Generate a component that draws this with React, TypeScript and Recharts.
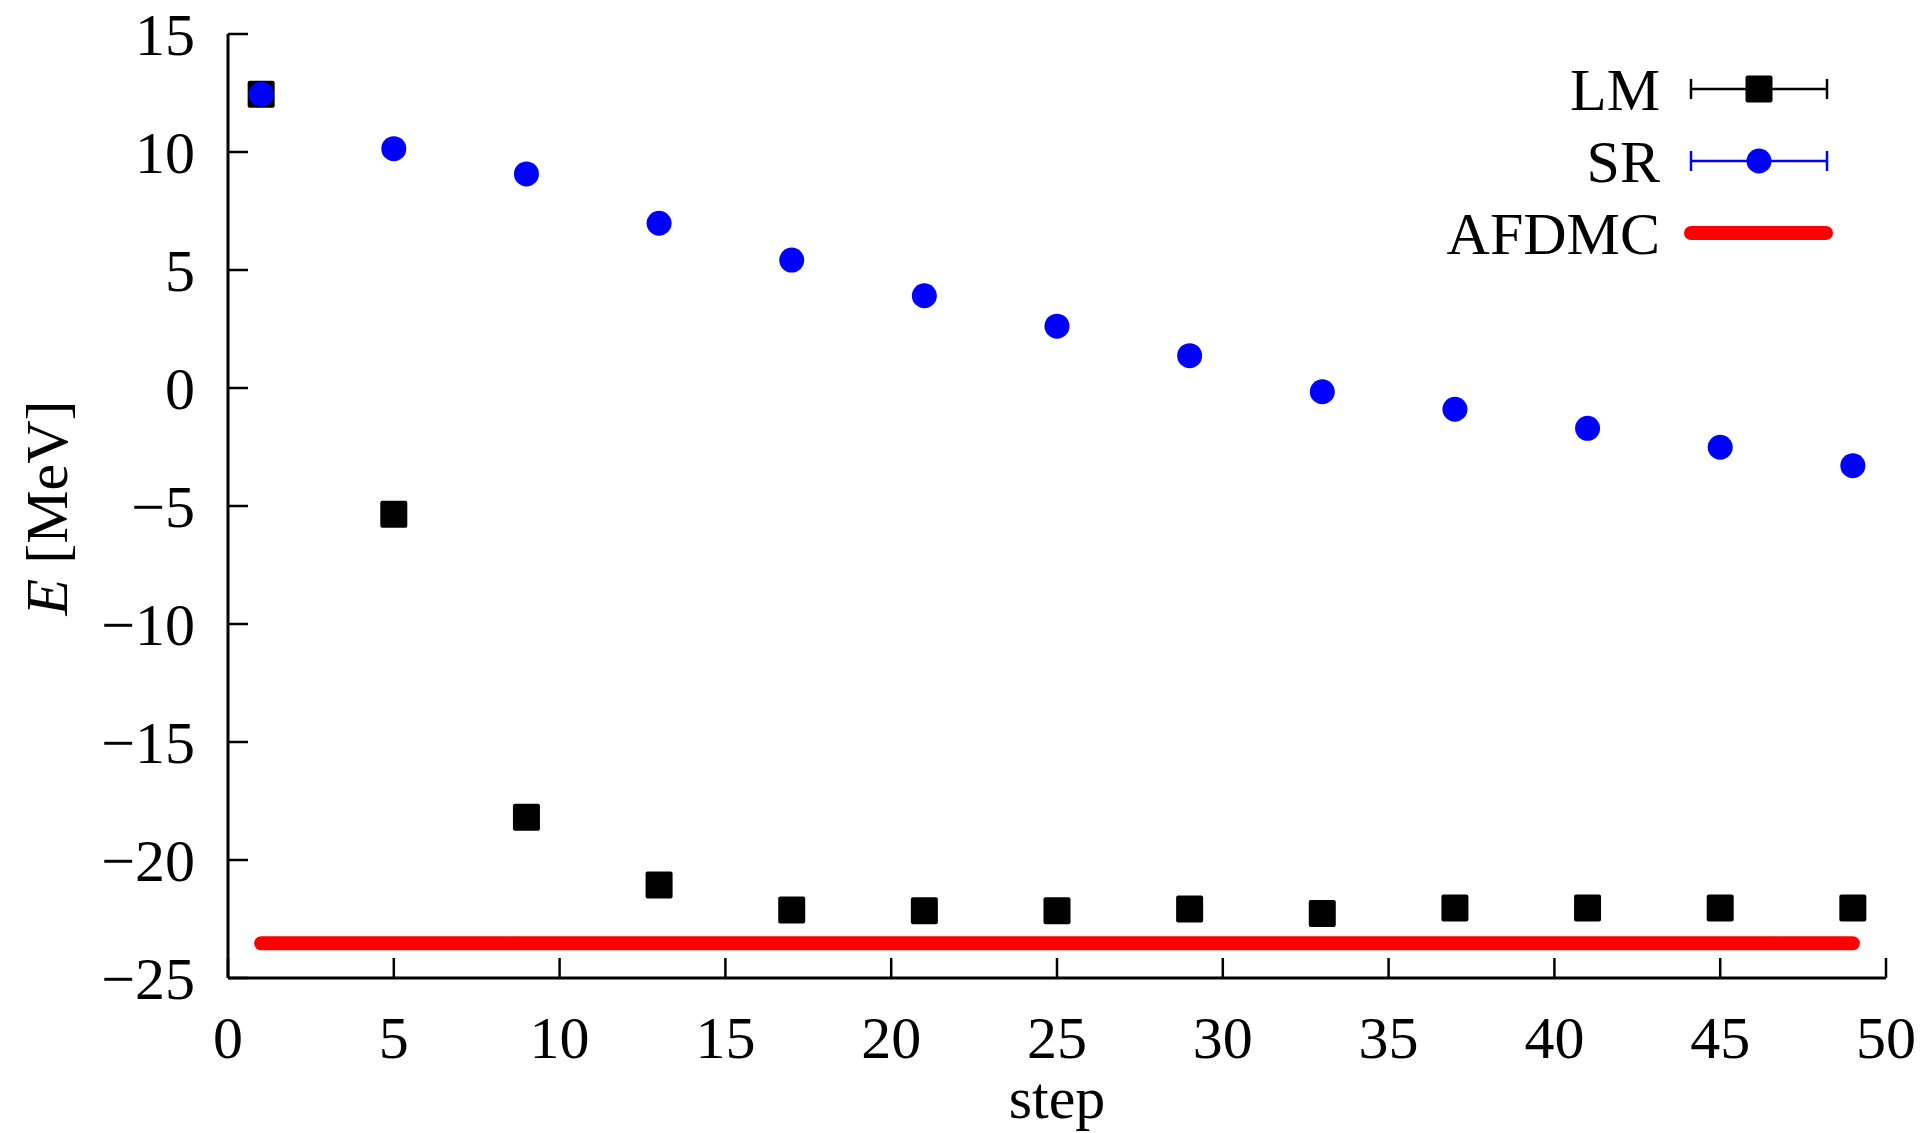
import { ComposedChart, Legend, Line, Scatter, XAxis, YAxis } from "recharts";

const steps = [1, 5, 9, 13, 17, 21, 25, 29, 33, 37, 41, 45, 49];
const lmEnergy = [12.45, -5.35, -18.19, -21.06, -22.12, -22.15, -22.15, -22.08, -22.27, -22.03, -22.03, -22.03, -22.03];
const srEnergy = [12.45, 10.14, 9.07, 6.98, 5.42, 3.91, 2.62, 1.37, -0.16, -0.9, -1.71, -2.51, -3.29];
const afdmcSteps = [1, 49];
const afdmcEnergy = [-23.53, -23.53];

const xTicks = [0, 5, 10, 15, 20, 25, 30, 35, 40, 45, 50];
const yTicks = [-25, -20, -15, -10, -5, 0, 5, 10, 15];

const legendNames = ["LM", "SR", "AFDMC"];
const legendColors = ["#000000", "#0000ff", "#ff0000"];

const lmData = steps.map((step, i) => ({ step, energy: lmEnergy[i] }));
const srData = steps.map((step, i) => ({ step, energy: srEnergy[i] }));
const afdmcData = afdmcSteps.map((step, i) => ({ step, energy: afdmcEnergy[i] }));

const FONT = "'Liberation Serif', 'DejaVu Serif', serif";
const FONT_SIZE = 60;
const TICK = 20;

const fmt = (v: number) => (v < 0 ? `\u2212${Math.abs(v)}` : String(v));

function BottomTick({ x, y, payload }: any) {
  return (
    <g>
      <line x1={x} x2={x} y1={y} y2={y - TICK} stroke="#000" strokeWidth={2.5} />
      <text x={x} y={y + 80} textAnchor="middle" fontFamily={FONT} fontSize={FONT_SIZE} fill="#000">
        {fmt(payload.value)}
      </text>
    </g>
  );
}

function TopTick({ x, y }: any) {
  return <line x1={x} x2={x} y1={y} y2={y + TICK} stroke="#000" strokeWidth={2.5} />;
}

function LeftTick({ x, y, payload }: any) {
  return (
    <g>
      <line x1={x} x2={x + TICK} y1={y} y2={y} stroke="#000" strokeWidth={2.5} />
      <text x={x - 33} y={y + 21} textAnchor="end" fontFamily={FONT} fontSize={FONT_SIZE} fill="#000">
        {fmt(payload.value)}
      </text>
    </g>
  );
}

function RightTick({ x, y }: any) {
  return <line x1={x} x2={x - TICK} y1={y} y2={y} stroke="#000" strokeWidth={2.5} />;
}

function Square({ cx, cy }: any) {
  return <rect x={cx - 13.5} y={cy - 13.5} width={27} height={27} rx={2} fill="#000" />;
}

function Dot({ cx, cy }: any) {
  return <circle cx={cx} cy={cy} r={12.5} fill="#0000ff" />;
}

function YLabel({ viewBox }: any) {
  const x = viewBox.x + 67;
  const y = viewBox.y + viewBox.height / 2 + 2;
  return (
    <text x={x} y={y} transform={`rotate(-90 ${x} ${y})`} textAnchor="middle" fontFamily={FONT} fontSize={FONT_SIZE} fill="#000">
      <tspan fontStyle="italic">E</tspan> [MeV]
    </text>
  );
}

function XLabel({ viewBox }: any) {
  return (
    <text x={viewBox.x + viewBox.width / 2} y={viewBox.y + 140} textAnchor="middle" fontFamily={FONT} fontSize={FONT_SIZE} fill="#000">
      step
    </text>
  );
}

function LegendBox() {
  return (
    <svg width={500} height={240} style={{ display: "block" }}>
      {legendNames.map((name, i) => {
        const rowY = 49 + i * 72;
        const color = legendColors[i];
        return (
          <g key={name}>
            <text x={260} y={rowY + 21} textAnchor="end" fontFamily={FONT} fontSize={FONT_SIZE} fill="#000">
              {name}
            </text>
            {i < 2 ? (
              <g stroke={color} strokeWidth={2.5}>
                <line x1={291} x2={427} y1={rowY} y2={rowY} />
                <line x1={291} x2={291} y1={rowY - 10} y2={rowY + 10} />
                <line x1={427} x2={427} y1={rowY - 10} y2={rowY + 10} />
                {i === 0 ? (
                  <rect x={359 - 13.5} y={rowY - 13.5} width={27} height={27} rx={2} fill={color} stroke="none" />
                ) : (
                  <circle cx={359} cy={rowY} r={12.5} fill={color} stroke="none" />
                )}
              </g>
            ) : (
              <line x1={291} x2={426} y1={rowY} y2={rowY} stroke={color} strokeWidth={14} strokeLinecap="round" />
            )}
          </g>
        );
      })}
    </svg>
  );
}

export default function App() {
  return (
    <div style={{ position: "absolute", left: 0, top: 0, width: 1922, height: 1133, background: "#fff" }}>
      <ComposedChart width={1922} height={1133} margin={{ top: 34, right: 36, bottom: 0, left: 0 }}>
        <XAxis
          xAxisId="bottom"
          dataKey="step"
          type="number"
          domain={[0, 50]}
          ticks={xTicks}
          interval={0}
          height={155}
          tickSize={0}
          tickMargin={0}
          tickLine={false}
          tick={<BottomTick />}
          axisLine={{ stroke: "#000", strokeWidth: 3 }}
          allowDataOverflow
          label={<XLabel />}
        />
        <XAxis
          xAxisId="top"
          orientation="top"
          type="number"
          domain={[0, 50]}
          ticks={xTicks}
          interval={0}
          height={0}
          tickSize={0}
          tickMargin={0}
          tickLine={false}
          tick={<TopTick />}
          axisLine={{ stroke: "#000", strokeWidth: 3 }}
          allowDataOverflow
        />
        <YAxis
          yAxisId="left"
          type="number"
          domain={[-25, 15]}
          ticks={yTicks}
          interval={0}
          width={228}
          tickSize={0}
          tickMargin={0}
          tickLine={false}
          tick={<LeftTick />}
          axisLine={{ stroke: "#000", strokeWidth: 3 }}
          allowDataOverflow
          label={<YLabel />}
        />
        <YAxis
          yAxisId="right"
          orientation="right"
          type="number"
          domain={[-25, 15]}
          ticks={yTicks}
          interval={0}
          width={0}
          tickSize={0}
          tickMargin={0}
          tickLine={false}
          tick={<RightTick />}
          axisLine={{ stroke: "#000", strokeWidth: 3 }}
          allowDataOverflow
        />
        <Line
          xAxisId="bottom"
          yAxisId="left"
          data={afdmcData}
          dataKey="energy"
          name="AFDMC"
          stroke="#ff0000"
          strokeWidth={14}
          strokeLinecap="round"
          dot={false}
          activeDot={false}
          isAnimationActive={false}
        />
        <Scatter xAxisId="bottom" yAxisId="left" data={lmData} dataKey="energy" name="LM" shape={<Square />} isAnimationActive={false} />
        <Scatter xAxisId="bottom" yAxisId="left" data={srData} dataKey="energy" name="SR" shape={<Dot />} isAnimationActive={false} />
        <Legend
          layout="vertical"
          align="center"
          verticalAlign="middle"
          content={<LegendBox />}
          wrapperStyle={{ left: 1400, top: 40, width: 500, height: 240 }}
        />
      </ComposedChart>
    </div>
  );
}
